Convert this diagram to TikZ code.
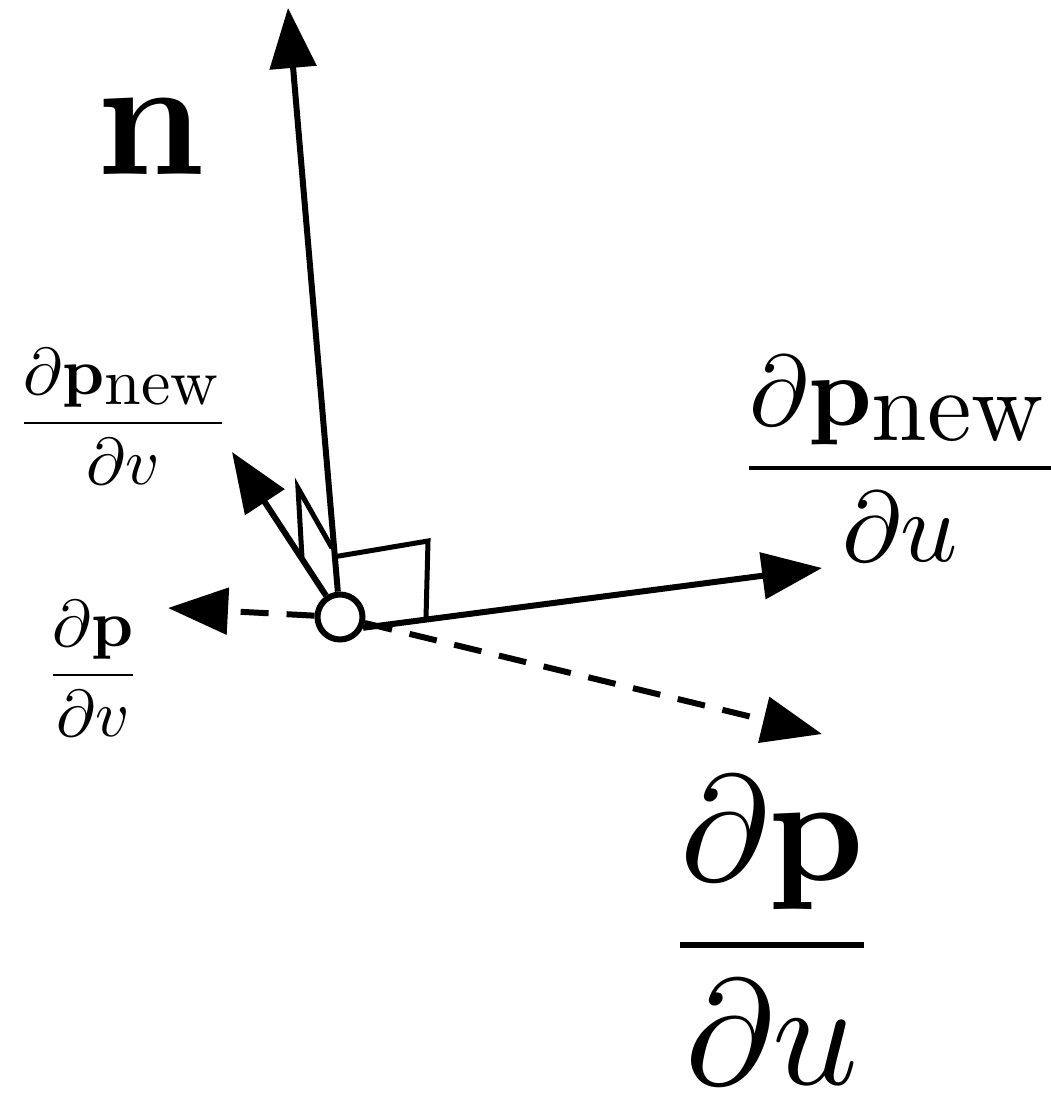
\documentclass[tikz,border=0pt]{standalone}
\usepackage{amsmath,amssymb}
\usetikzlibrary{arrows.meta, calc}

\begin{document}
\begin{tikzpicture}[x=1pt, y=-1pt,
  vec/.style={-{Triangle[length=60pt, width=46pt]}, line width=6pt},
  oldvec/.style={vec, dash pattern=on 28pt off 18pt},
  rightmark/.style={line width=5pt},
  big/.style={scale=15, transform shape, anchor=base, inner sep=0pt},
  mid/.style={scale=10, transform shape, anchor=base, inner sep=0pt},
  small/.style={scale=6.6, transform shape, anchor=base, inner sep=0pt}]
\useasboundingbox (0,0) rectangle (1050,1105);
% surface point and tangent frame
\node[circle, draw, fill=white, line width=6pt, minimum size=45pt, inner sep=0pt] (o) at (340,617) {};
\coordinate (ntip) at (288,8);
\coordinate (unewtip) at (822,568);
\coordinate (vnewtip) at (232,452);
\coordinate (utip) at (822,734);
\coordinate (vtip) at (168,608);
% old derivatives (dashed)
\draw[oldvec] (o) -- (utip);
\draw[oldvec] (o) -- (vtip);
% new derivatives and normal
\draw[vec] (o) -- (ntip);
\draw[vec] (o.-25) -- (unewtip);
\draw[vec] (o) -- (vnewtip);
% right angle marks
\draw[rightmark] (333,557) -- (428,541) -- (426,618);
\draw[rightmark] (302,558) -- (298,488) -- (332,548);
% labels
\node[scale=17, transform shape, inner sep=0pt] (nlbl) at (151,137) {$\mathbf{n}$};
\node[mid] (unewlbl) at (900,493) {$\dfrac{\partial\mathbf{p}_{\textstyle\mathrm{new}}}{\partial u}$};
\node[small] (vnewlbl) at (123,439.5) {$\dfrac{\partial\mathbf{p}_{\textstyle\mathrm{new}}}{\partial v}$};
\node[small] (vlbl) at (93,691.5) {$\dfrac{\partial\mathbf{p}}{\partial v}$};
\node[big] (ulbl) at (772,982) {$\dfrac{\partial\mathbf{p}}{\partial u}$};
\end{tikzpicture}
\end{document}
